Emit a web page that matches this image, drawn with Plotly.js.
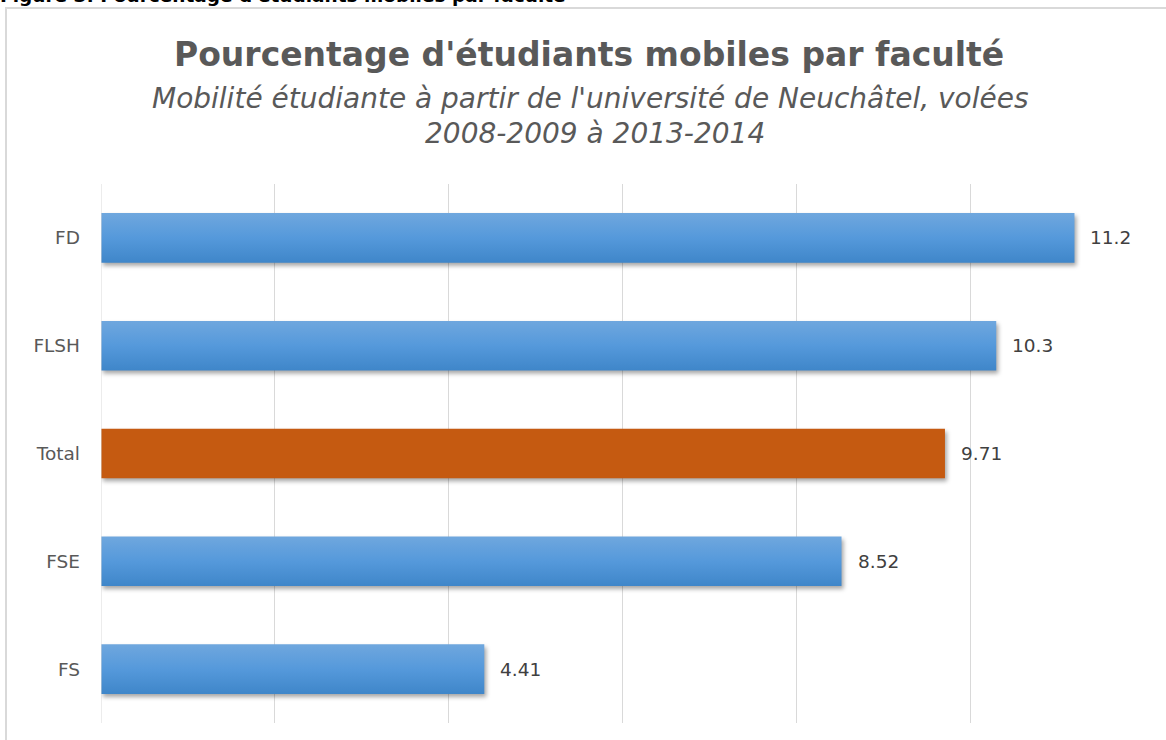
<!DOCTYPE html>
<html>
<head>
<meta charset="utf-8">
<script src="https://cdn.plot.ly/plotly-3.0.1.min.js"></script>
<style>
  html, body { margin: 0; padding: 0; background: #fff; overflow: hidden; }
  #wrap { position: relative; width: 1166px; height: 740px; overflow: hidden; }
  #fig { position: absolute; left: 0; top: 0; width: 1166px; height: 740px; }
  #hdr { position: absolute; left: 0; top: -13px; line-height: 18px; font-family: "DejaVu Sans", sans-serif; font-weight: bold; font-size: 18.5px; color: #000; white-space: nowrap; }
  #box { position: absolute; left: 5px; top: 7px; width: 1200px; height: 800px; border-left: 2px solid #d9d9d9; border-top: 2px solid #d9d9d9; box-sizing: border-box; }
  #fig .trace.bars path { filter: drop-shadow(2px 3px 2px rgba(0,0,0,0.35)); }
</style>
</head>
<body>
<div id="wrap">
  <div id="fig"></div>
  <div id="box"></div>
  <div id="hdr">Figure 3: Pourcentage d'étudiants mobiles par faculté</div>
</div>
<script>
const categories = ["FD", "FLSH", "Total", "FSE", "FS"];
const values = [11.2, 10.3, 9.71, 8.52, 4.41];
const labels = ["11.2", "10.3", "9.71", "8.52", "4.41"];
const barColors = ["#5497da", "#5497da", "#c55a11", "#5497da", "#5497da"];
const xTicks = [0, 2, 4, 6, 8, 10, 12];
const titleText = "Pourcentage d'étudiants mobiles par faculté";
const subtitleLines = ["Mobilité étudiante à partir de l'université de Neuchâtel, volées", "2008-2009 à 2013-2014"];

const font = '"DejaVu Sans", sans-serif';

const trace = {
  type: "bar",
  orientation: "h",
  y: categories,
  x: values,
  marker: { color: barColors, line: { width: 0 } },
  hoverinfo: "none",
  showlegend: false
};

const annotations = categories.map((c, i) => ({
  x: values[i], y: c, xref: "x", yref: "y",
  text: labels[i], showarrow: false, xanchor: "left", yanchor: "middle",
  xshift: 14, font: { family: font, size: 18.5, color: "#404040" }
}));

const plotH = 740 - 184 - 17;
function paperY(px) { return (740 - 17 - px) / plotH; }
annotations.push({
  xref: "paper", yref: "paper", x: (589 - 101) / 1043, y: paperY(55),
  xanchor: "center", yanchor: "middle", showarrow: false,
  text: "<b>" + titleText + "</b>",
  font: { family: font, size: 33, color: "#595959" }
});
annotations.push({
  xref: "paper", yref: "paper", x: (590 - 101) / 1043, y: paperY(98),
  xanchor: "center", yanchor: "middle", showarrow: false,
  text: "<i>" + subtitleLines[0] + "</i>",
  font: { family: font, size: 28, color: "#595959" }
});
annotations.push({
  xref: "paper", yref: "paper", x: (595 - 101) / 1043, y: paperY(133),
  xanchor: "center", yanchor: "middle", showarrow: false,
  text: "<i>" + subtitleLines[1] + "</i>",
  font: { family: font, size: 28, color: "#595959" }
});

const layout = {
  width: 1166, height: 740,
  margin: { l: 101, r: 22, t: 184, b: 17 },
  paper_bgcolor: "rgba(0,0,0,0)",
  plot_bgcolor: "rgba(0,0,0,0)",
  bargap: 0.54,
  xaxis: {
    range: [0, 12], tickvals: xTicks, showticklabels: false,
    showgrid: true, gridcolor: "#d9d9d9", gridwidth: 1,
    zeroline: false, showline: false, fixedrange: true
  },
  yaxis: {
    categoryorder: "array", categoryarray: categories.slice().reverse(),
    autorange: true, showgrid: false, zeroline: false, showline: false,
    ticks: "", ticklabelstandoff: 20,
    tickfont: { family: font, size: 18.5, color: "#595959" }, fixedrange: true
  },
  shapes: [{
    type: "line", xref: "x", yref: "paper", x0: 0, x1: 0, y0: 0, y1: 1,
    line: { color: "#d9d9d9", width: 1 }
  }],
  annotations: annotations
};

Plotly.newPlot("fig", [trace], layout, { displayModeBar: false, staticPlot: true }).then(gd => {
  // vertical gradients to mimic the shaded bars
  const svg = gd.querySelector("svg.main-svg");
  const ns = "http://www.w3.org/2000/svg";
  let defs = svg.querySelector("defs");
  if (!defs) { defs = document.createElementNS(ns, "defs"); svg.insertBefore(defs, svg.firstChild); }
  function grad(id, top, mid, bot) {
    const g = document.createElementNS(ns, "linearGradient");
    g.setAttribute("id", id);
    g.setAttribute("x1", "0"); g.setAttribute("y1", "0");
    g.setAttribute("x2", "0"); g.setAttribute("y2", "1");
    [[0, top], [0.5, mid], [1, bot]].forEach(([o, c]) => {
      const s = document.createElementNS(ns, "stop");
      s.setAttribute("offset", o); s.setAttribute("stop-color", c);
      g.appendChild(s);
    });
    defs.appendChild(g);
  }
  grad("gBlue", "#6fa7de", "#5599db", "#3f86c9");
  gd.querySelectorAll(".trace.bars .point path").forEach((p, i) => {
    if (barColors[i] !== "#c55a11") p.style.fill = "url(#gBlue)";
  });
});
</script>
</body>
</html>
